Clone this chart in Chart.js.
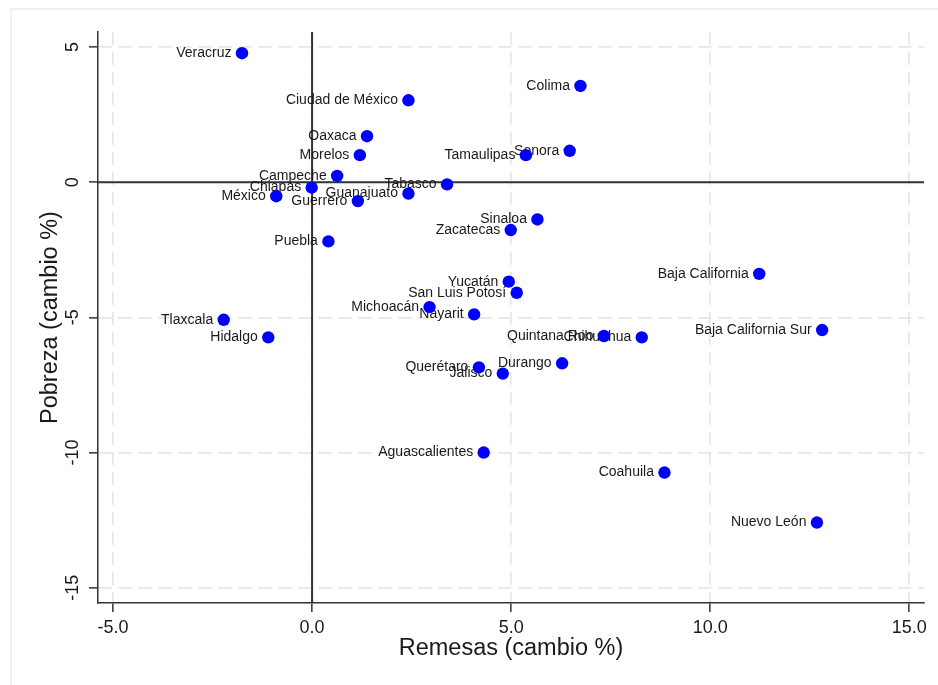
<!DOCTYPE html>
<html>
<head>
<meta charset="utf-8">
<title>Remesas y pobreza por estado</title>
<script src="https://cdn.jsdelivr.net/npm/chart.js@4.4.0/dist/chart.umd.min.js"></script>
<style>
  html, body { margin:0; padding:0; background:#fff; }
  #wrap { width:938px; height:685px; position:relative; }
</style>
</head>
<body>
<div id="wrap"><canvas id="remesasChart" width="938" height="685"></canvas></div>
<script>
// cambio % por estado
const estados = [
  'Veracruz', 'Ciudad de México', 'Colima', 'Oaxaca', 'Morelos', 'Sonora', 'Tamaulipas',
  'Campeche', 'Chiapas', 'México', 'Guerrero', 'Guanajuato', 'Tabasco', 'Sinaloa',
  'Zacatecas', 'Puebla', 'Baja California', 'Yucatán', 'San Luis Potosí', 'Michoacán',
  'Nayarit', 'Tlaxcala', 'Hidalgo', 'Baja California Sur', 'Quintana Roo', 'Chihuahua',
  'Durango', 'Querétaro', 'Jalisco', 'Aguascalientes', 'Coahuila', 'Nuevo León'
];
const remesas = [
  -1.76, 2.42, 6.74, 1.38, 1.20, 6.47, 5.37,
  0.63, -0.01, -0.90, 1.15, 2.42, 3.39, 5.66,
  4.99, 0.41, 11.23, 4.94, 5.14, 2.95,
  4.07, -2.22, -1.10, 12.81, 7.33, 8.28,
  6.28, 4.19, 4.79, 4.31, 8.85, 12.68
];
const pobreza = [
  4.77, 3.03, 3.56, 1.70, 1.00, 1.16, 1.00,
  0.23, -0.20, -0.52, -0.70, -0.42, -0.08, -1.38,
  -1.77, -2.19, -3.39, -3.68, -4.09, -4.62,
  -4.89, -5.09, -5.74, -5.47, -5.69, -5.74,
  -6.70, -6.85, -7.08, -10.00, -10.74, -12.59
];
const xTicks = [-5, 0, 5, 10, 15];
const yTicks = [5, 0, -5, -10, -15];

const FONT = "'Liberation Sans', Arial, Helvetica, sans-serif";
const INK = '#1a1a1a';
const AXIS = '#333333';
const GRID = '#e6e6e6';

const puntos = estados.map((e, i) => ({ x: remesas[i], y: pobreza[i], estado: e }));

// white page with a thin light frame on the left and top
const framePlugin = {
  id: 'frame',
  beforeDraw(chart) {
    const { ctx, width, height } = chart;
    ctx.save();
    ctx.fillStyle = '#fff';
    ctx.fillRect(0, 0, width, height);
    ctx.strokeStyle = '#ececec';
    ctx.lineWidth = 1.5;
    ctx.beginPath();
    ctx.moveTo(11, height);
    ctx.lineTo(11, 9);
    ctx.lineTo(width, 9);
    ctx.stroke();
    ctx.restore();
  }
};

// solid lines at x = 0 and y = 0
const zeroLines = {
  id: 'zeroLines',
  beforeDatasetsDraw(chart) {
    const { ctx, chartArea: a, scales: { x, y } } = chart;
    const x0 = x.getPixelForValue(0);
    const y0 = y.getPixelForValue(0);
    ctx.save();
    ctx.strokeStyle = AXIS;
    ctx.lineWidth = 2;
    ctx.beginPath();
    ctx.moveTo(x0, a.top); ctx.lineTo(x0, a.bottom);
    ctx.moveTo(a.left, y0); ctx.lineTo(a.right, y0);
    ctx.stroke();
    ctx.restore();
  }
};

// state names to the left of each marker
const stateLabels = {
  id: 'stateLabels',
  beforeDatasetsDraw(chart) {
    const { ctx } = chart;
    const meta = chart.getDatasetMeta(0);
    ctx.save();
    ctx.font = '14px ' + FONT;
    ctx.fillStyle = INK;
    ctx.textAlign = 'right';
    ctx.textBaseline = 'middle';
    meta.data.forEach((pt, i) => {
      ctx.fillText(estados[i], pt.x - 10.5, pt.y);
    });
    ctx.restore();
  }
};

new Chart(document.getElementById('remesasChart'), {
  type: 'scatter',
  data: {
    datasets: [{
      data: puntos,
      backgroundColor: '#0000ff',
      borderWidth: 0,
      pointRadius: 6.2,
      pointHoverRadius: 6.2
    }]
  },
  options: {
    responsive: false,
    animation: false,
    devicePixelRatio: 1,
    layout: { padding: { left: 0, top: 32, right: 14, bottom: 0 } },
    plugins: {
      legend: { display: false },
      tooltip: { enabled: false }
    },
    scales: {
      x: {
        type: 'linear',
        min: -5.377,
        max: 15.369,
        afterBuildTicks: s => { s.ticks = xTicks.map(v => ({ value: v })); },
        afterFit: s => { s.height = 82; },
        ticks: {
          font: { family: FONT, size: 18 },
          color: INK,
          padding: 5,
          maxRotation: 0,
          callback: v => v.toFixed(1)
        },
        grid: {
          color: GRID,
          lineWidth: 1.7,
          drawTicks: true,
          tickLength: 9,
          tickColor: AXIS,
          tickWidth: 1.5
        },
        border: { display: true, color: AXIS, width: 1.5, dash: [13, 7] },
        title: {
          display: true,
          text: 'Remesas (cambio %)',
          font: { family: FONT, size: 23.5 },
          color: INK,
          padding: { top: 0, bottom: 22 }
        }
      },
      y: {
        type: 'linear',
        min: -15.566,
        max: 5.555,
        afterBuildTicks: s => { s.ticks = yTicks.map(v => ({ value: v })); },
        afterFit: s => { s.width = 98; },
        ticks: {
          font: { family: FONT, size: 18 },
          color: INK,
          padding: 3,
          minRotation: 90,
          maxRotation: 90,
          crossAlign: 'center',
          callback: v => String(v)
        },
        grid: {
          color: GRID,
          lineWidth: 1.7,
          drawTicks: true,
          tickLength: 9,
          tickColor: AXIS,
          tickWidth: 1.5
        },
        border: { display: true, color: AXIS, width: 1.5, dash: [13, 7] },
        title: {
          display: true,
          text: 'Pobreza (cambio %)',
          font: { family: FONT, size: 23.5 },
          color: INK,
          padding: { top: 36, bottom: 0 }
        }
      }
    }
  },
  plugins: [framePlugin, zeroLines, stateLabels]
});
</script>
</body>
</html>
